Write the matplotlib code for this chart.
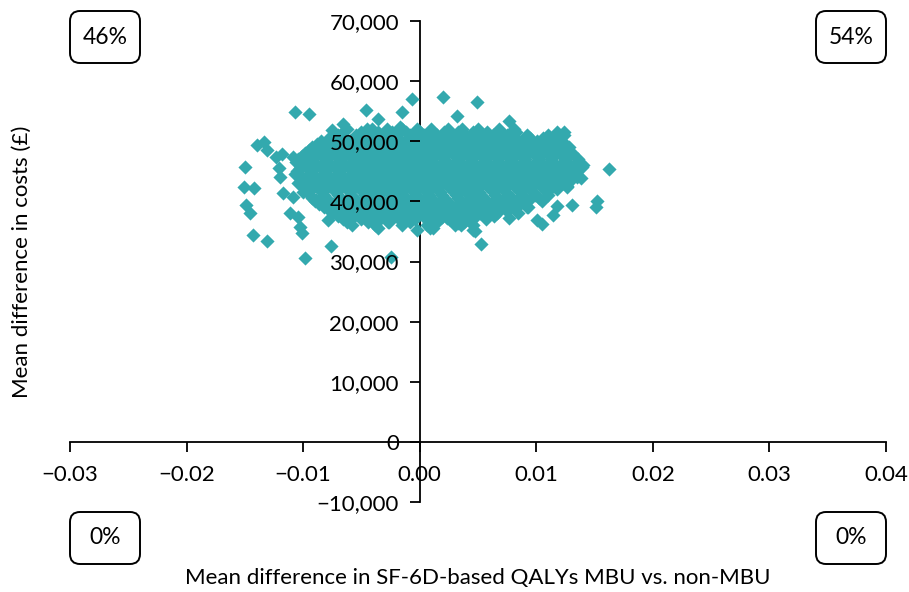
import matplotlib
matplotlib.use("Agg")
import matplotlib.pyplot as plt
from matplotlib.patches import FancyBboxPatch

plt.rcParams['font.family'] = ['Lato', 'DejaVu Sans']

# ---- data ----
# dense core, grouped by cost level (£)
core_costs = [52000, 51500, 51000, 50500, 50000, 49500, 49000, 48500, 48000, 47500, 47000,
              46500, 46000, 45500, 45000, 44500, 44000, 43500, 43000, 42500, 42000, 41500,
              41000, 40500, 40000, 39500, 39000, 38500, 38000, 37500, 37000, 36500, 36000]
core_qalys = [
    [-0.0062, -0.0045, -0.0028, -0.0015, -0.0002, 0.0010, 0.0024, 0.0036, 0.0050, 0.0068, 0.0081],
    [-0.0066, -0.0050, -0.0036, -0.0024, -0.0012, 0.0000, 0.0010, 0.0021, 0.0033, 0.0046, 0.0058,
     0.0070, 0.0083, 0.0118],
    [-0.0070, -0.0055, -0.0040, -0.0030, -0.0020, -0.0008, 0.0004, 0.0015, 0.0027, 0.0040, 0.0052,
     0.0063, 0.0075, 0.0092, 0.0110, 0.0124],
    [-0.0078, -0.0064, -0.0053, -0.0042, -0.0031, -0.0019, -0.0007, 0.0004, 0.0014, 0.0025, 0.0037,
     0.0049, 0.0060, 0.0072, 0.0083, 0.0095, 0.0106, 0.0117],
    [-0.0085, -0.0072, -0.0060, -0.0048, -0.0036, -0.0025, -0.0013, -0.0002, 0.0008, 0.0019, 0.0031,
     0.0043, 0.0055, 0.0066, 0.0078, 0.0088, 0.0101, 0.0112, 0.0122],
    [-0.0088, -0.0074, -0.0062, -0.0050, -0.0038, -0.0027, -0.0016, -0.0005, 0.0006, 0.0018, 0.0029,
     0.0041, 0.0052, 0.0064, 0.0076, 0.0088, 0.0100, 0.0111, 0.0122],
    [-0.0092, -0.0080, -0.0067, -0.0056, -0.0043, -0.0032, -0.0021, -0.0010, 0.0001, 0.0012, 0.0024,
     0.0035, 0.0046, 0.0058, 0.0070, 0.0082, 0.0094, 0.0106, 0.0117, 0.0128],
    [-0.0095, -0.0083, -0.0071, -0.0059, -0.0047, -0.0035, -0.0024, -0.0013, -0.0002, 0.0009, 0.0021,
     0.0032, 0.0044, 0.0055, 0.0067, 0.0079, 0.0091, 0.0103, 0.0114, 0.0125],
    [-0.0098, -0.0086, -0.0074, -0.0062, -0.0051, -0.0040, -0.0028, -0.0017, -0.0006, 0.0005, 0.0016,
     0.0028, 0.0039, 0.0050, 0.0062, 0.0073, 0.0085, 0.0097, 0.0109, 0.0120, 0.0131],
    [-0.0101, -0.0089, -0.0077, -0.0065, -0.0054, -0.0043, -0.0032, -0.0021, -0.0010, 0.0000, 0.0011,
     0.0022, 0.0034, 0.0045, 0.0057, 0.0068, 0.0080, 0.0091, 0.0103, 0.0115, 0.0126],
    [-0.0104, -0.0092, -0.0080, -0.0068, -0.0057, -0.0045, -0.0034, -0.0023, -0.0012, -0.0001, 0.0010,
     0.0021, 0.0033, 0.0044, 0.0056, 0.0067, 0.0079, 0.0090, 0.0102, 0.0113, 0.0125, 0.0136],
    [-0.0106, -0.0094, -0.0082, -0.0070, -0.0058, -0.0047, -0.0036, -0.0025, -0.0014, -0.0003, 0.0008,
     0.0020, 0.0031, 0.0043, 0.0054, 0.0066, 0.0077, 0.0089, 0.0100, 0.0112, 0.0123, 0.0135],
    [-0.0100, -0.0088, -0.0076, -0.0064, -0.0052, -0.0041, -0.0030, -0.0019, -0.0008, 0.0003, 0.0014,
     0.0026, 0.0037, 0.0048, 0.0060, 0.0071, 0.0083, 0.0094, 0.0106, 0.0117, 0.0129, 0.0140],
    [-0.0103, -0.0091, -0.0079, -0.0067, -0.0055, -0.0044, -0.0033, -0.0022, -0.0011, 0.0000, 0.0011,
     0.0022, 0.0034, 0.0045, 0.0057, 0.0068, 0.0080, 0.0091, 0.0103, 0.0114, 0.0126, 0.0137],
    [-0.0105, -0.0094, -0.0082, -0.0070, -0.0058, -0.0047, -0.0036, -0.0025, -0.0014, -0.0003, 0.0008,
     0.0019, 0.0031, 0.0042, 0.0053, 0.0065, 0.0076, 0.0088, 0.0099, 0.0111, 0.0122, 0.0134],
    [-0.0107, -0.0095, -0.0083, -0.0071, -0.0059, -0.0048, -0.0037, -0.0026, -0.0015, -0.0004, 0.0007,
     0.0018, 0.0030, 0.0041, 0.0053, 0.0064, 0.0076, 0.0087, 0.0099, 0.0110, 0.0122, 0.0133],
    [-0.0101, -0.0089, -0.0077, -0.0065, -0.0053, -0.0042, -0.0031, -0.0020, -0.0009, 0.0002, 0.0013,
     0.0025, 0.0036, 0.0047, 0.0059, 0.0070, 0.0082, 0.0093, 0.0105, 0.0116, 0.0128],
    [-0.0099, -0.0087, -0.0075, -0.0063, -0.0051, -0.0040, -0.0029, -0.0018, -0.0007, 0.0004, 0.0015,
     0.0026, 0.0038, 0.0049, 0.0061, 0.0072, 0.0084, 0.0095, 0.0107, 0.0118, 0.0130],
    [-0.0104, -0.0093, -0.0081, -0.0069, -0.0057, -0.0046, -0.0035, -0.0024, -0.0013, -0.0002, 0.0009,
     0.0020, 0.0032, 0.0043, 0.0054, 0.0066, 0.0077, 0.0089, 0.0100, 0.0112, 0.0123],
    [-0.0101, -0.0090, -0.0078, -0.0066, -0.0054, -0.0043, -0.0032, -0.0021, -0.0010, 0.0001, 0.0012,
     0.0024, 0.0035, 0.0046, 0.0058, 0.0069, 0.0081, 0.0092, 0.0104, 0.0115, 0.0126],
    [-0.0098, -0.0086, -0.0074, -0.0062, -0.0051, -0.0040, -0.0029, -0.0018, -0.0007, 0.0004, 0.0015,
     0.0027, 0.0038, 0.0049, 0.0061, 0.0072, 0.0084, 0.0095, 0.0107, 0.0118],
    [-0.0096, -0.0084, -0.0072, -0.0060, -0.0049, -0.0038, -0.0027, -0.0016, -0.0005, 0.0006, 0.0017,
     0.0029, 0.0040, 0.0051, 0.0063, 0.0074, 0.0086, 0.0097, 0.0109],
    [-0.0094, -0.0082, -0.0070, -0.0059, -0.0047, -0.0036, -0.0025, -0.0014, -0.0003, 0.0008, 0.0019,
     0.0031, 0.0042, 0.0053, 0.0065, 0.0076, 0.0088, 0.0099, 0.0110],
    [-0.0092, -0.0080, -0.0068, -0.0056, -0.0045, -0.0034, -0.0023, -0.0012, -0.0001, 0.0010, 0.0021,
     0.0033, 0.0044, 0.0055, 0.0067, 0.0079, 0.0090, 0.0102],
    [-0.0090, -0.0078, -0.0066, -0.0054, -0.0043, -0.0032, -0.0021, -0.0010, 0.0001, 0.0012, 0.0023,
     0.0035, 0.0046, 0.0057, 0.0069, 0.0081, 0.0093, 0.0105],
    [-0.0086, -0.0074, -0.0062, -0.0051, -0.0040, -0.0029, -0.0018, -0.0007, 0.0004, 0.0015, 0.0026,
     0.0038, 0.0050, 0.0061, 0.0073, 0.0086],
    [-0.0082, -0.0070, -0.0058, -0.0047, -0.0036, -0.0025, -0.0014, -0.0003, 0.0008, 0.0019, 0.0030,
     0.0042, 0.0054, 0.0066, 0.0078, 0.0092],
    [-0.0078, -0.0065, -0.0053, -0.0041, -0.0029, -0.0017, -0.0005, 0.0007, 0.0020, 0.0033, 0.0046,
     0.0059, 0.0074],
    [-0.0074, -0.0060, -0.0048, -0.0035, -0.0022, -0.0010, 0.0002, 0.0014, 0.0027, 0.0040, 0.0052,
     0.0066, 0.0084],
    [-0.0070, -0.0056, -0.0042, -0.0027, -0.0012, 0.0003, 0.0017, 0.0032, 0.0048, 0.0064],
    [-0.0066, -0.0050, -0.0034, -0.0018, -0.0004, 0.0010, 0.0025, 0.0040, 0.0057],
    [-0.0062, -0.0044, -0.0026, -0.0008, 0.0015, 0.0038],
    [-0.0058, -0.0038, -0.0015, 0.0006, 0.0030, 0.0046],
]

# scattered points around the core
fringe_qalys = [
    -0.0107, -0.0095, -0.0046, -0.0036, -0.0015, -0.0007, 0.0020, 0.0049, -0.0066, -0.0075, -0.0041, -0.0017,
    0.0032, 0.0077,
    -0.0140, -0.0134, -0.0131, -0.0123, -0.0118, -0.0109, -0.0100, -0.0093, -0.0150, -0.0151, -0.0142,
    -0.0149, -0.0146, -0.0143, -0.0131, -0.0121, -0.0120, -0.0117, -0.0109, -0.0100, -0.0111, -0.0104,
    -0.0103, -0.0101, -0.0076, -0.0098, -0.0025, -0.0089, -0.0085, -0.0079, -0.0060,
    -0.0047, -0.0036, -0.0027, -0.0002, 0.0009, 0.0019, 0.0033, 0.0046, 0.0053,
    0.0124, 0.0114, 0.0119, 0.0139, 0.0162, 0.0129, 0.0135, 0.0138, 0.0126, 0.0152, 0.0151, 0.0131,
    0.0118, 0.0114, 0.0101, 0.0105, 0.0093, 0.0077, 0.0047, 0.0035, 0.0023, 0.0011,
]
fringe_costs = [
    54900, 54600, 55200, 53700, 54900, 57100, 57400, 56600, 52900, 51900, 52100, 52400,
    54200, 53400,
    49300, 49800, 48600, 47400, 47900, 47300, 47400, 48600, 45800, 42400, 42300,
    39400, 38100, 34400, 33400, 45600, 44100, 41400, 40800, 41600, 38100, 37400,
    35800, 34800, 32600, 30600, 30800, 40300, 39800, 36900, 36900,
    37300, 35600, 36600, 35300, 35600, 37400, 36400, 35300, 32900,
    51600, 50600, 49400, 45800, 45400, 45600, 44100, 43900, 42400, 40100, 39100, 39400,
    39300, 37800, 36900, 36300, 39100, 37300, 35100, 36100, 37300, 35600,
]

x_ticks = [-0.03, -0.02, -0.01, 0.00, 0.01, 0.02, 0.03, 0.04]
x_ticklabels = ["\u22120.03", "\u22120.02", "\u22120.01", "0.00", "0.01", "0.02", "0.03", "0.04"]
y_ticks = [-10000, 0, 10000, 20000, 30000, 40000, 50000, 60000, 70000]
y_ticklabels = ["\u221210,000", "0", "10,000", "20,000", "30,000", "40,000", "50,000", "60,000", "70,000"]
quadrant_labels = ["46%", "54%", "0%", "0%"]

xlabel = "Mean difference in SF-6D-based QALYs MBU vs. non-MBU"
ylabel = "Mean difference in costs (\u00a3)"

# ---- build point lists ----
xs, ys = [], []
for c, row in zip(core_costs, core_qalys):
    for q in row:
        xs.append(q)
        ys.append(c)
xs += fringe_qalys
ys += fringe_costs

teal = "#33a9ae"
FS = 16

W, H = 909, 592
fig = plt.figure(figsize=(W / 100, H / 100), dpi=100)
ax = fig.add_axes([70 / W, 1 - 502 / H, (886 - 70) / W, (502 - 21) / H])
ax.set_xlim(-0.03, 0.04)
ax.set_ylim(-10000, 70000)

ax.scatter(xs, ys, marker="D", s=52, color=teal, linewidths=0, zorder=3)

for side in ("top", "right"):
    ax.spines[side].set_visible(False)
ax.spines["left"].set_position(("data", 0))
ax.spines["bottom"].set_position(("data", 0))
for side in ("left", "bottom"):
    ax.spines[side].set_linewidth(1.3)
    ax.spines[side].set_zorder(2)

ax.set_xticks(x_ticks)
ax.set_xticklabels(x_ticklabels)
ax.set_yticks(y_ticks)
ax.set_yticklabels(y_ticklabels)
ax.tick_params(axis="x", direction="out", length=7, width=1.3, pad=10, labelsize=FS, colors="black")
ax.tick_params(axis="y", direction="out", length=7, width=1.3, pad=8, labelsize=FS, colors="black")
ax.xaxis.set_zorder(4)
ax.yaxis.set_zorder(4)

fig.text(478 / W, 1 - 578 / H, xlabel, ha="center", va="center", fontsize=FS)
fig.text(22 / W, 1 - 262 / H, ylabel, ha="center", va="center", rotation=90, fontsize=FS)

# quadrant boxes (pixel geometry converted to inches)
box_centers = [(105, 37), (851, 37), (105, 538), (851, 538)]
bw, bh, r = 70, 52, 10
for (cx, cy), lab in zip(box_centers, quadrant_labels):
    x0 = (cx - bw / 2 + r) / 100
    y0 = (H - cy - bh / 2 + r) / 100
    patch = FancyBboxPatch((x0, y0), (bw - 2 * r) / 100, (bh - 2 * r) / 100,
                           boxstyle=f"round,pad={r / 100}", transform=fig.dpi_scale_trans,
                           facecolor="white", edgecolor="black", linewidth=1.4)
    fig.patches.append(patch)
    fig.text(cx / W, 1 - cy / H, lab, ha="center", va="center", fontsize=16.5)

fig.savefig("out.png", dpi=100)
